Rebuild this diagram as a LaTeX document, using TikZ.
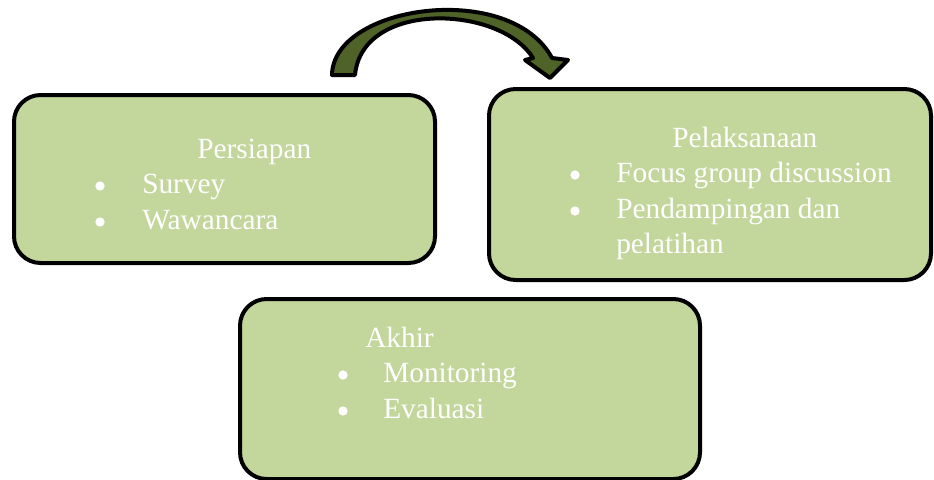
\documentclass[tikz,border=0pt]{standalone}
\usepackage{fontspec}
\setmainfont{Liberation Serif}
\definecolor{boxgreen}{HTML}{C3D69B}
\definecolor{arrowgreen}{HTML}{4F6228}
\begin{document}
\begin{tikzpicture}[x=0.75pt,y=-0.75pt,every node/.style={font=\fontsize{22}{27}\selectfont,text=white},
  stage/.style={draw=black,line width=3pt,fill=boxgreen,rounded corners=20pt,inner sep=0pt},
  item/.style={anchor=base west,inner sep=0pt},
  dot/.style={circle,fill=white,inner sep=0pt,minimum size=7pt}]
\useasboundingbox (0,0) rectangle (934,479);
% three stage boxes
\node[stage,minimum width=421*0.75pt,minimum height=168*0.75pt] (persiapan) at (224.5,179) {};
\node[stage,minimum width=442*0.75pt,minimum height=191*0.75pt] (pelaksanaan) at (710,184.5) {};
\node[stage,minimum width=460*0.75pt,minimum height=180*0.75pt] (akhir) at (470,389) {};
% curved block arrow persiapan -> pelaksanaan
\coordinate (footL) at (332,75); \coordinate (footR) at (355,75);
\coordinate (tip) at (550,78);
\draw[line width=3pt,line join=round,fill=arrowgreen] (footL) .. controls (333,5) and (510,-20) .. (552,58)
  -- (568,60) -- (tip) -- (525,60) -- (533,58) .. controls (500,5) and (362,0) .. (footR) -- cycle;
% texts: persiapan
\node[item] (ttl1) at (197,158) {Persiapan};
\node[dot] (b11) at (100,186) {}; \node[item] (i11) at (142,193) {Survey};
\node[dot] (b12) at (100,222) {}; \node[item] (i12) at (142,229) {Wawancara};
% texts: pelaksanaan
\node[item] (ttl2) at (672,147) {Pelaksanaan};
\node[dot] (b21) at (575,175) {}; \node[item] (i21) at (616,182) {Focus group discussion};
\node[dot] (b22) at (575,211) {}; \node[item] (i22) at (616,218) {Pendampingan dan};
\node[item] (i23) at (616,253) {pelatihan};
% texts: akhir
\node[item] (ttl3) at (365,347) {Akhir};
\node[dot] (b31) at (343,375) {}; \node[item] (i31) at (383,382) {Monitoring};
\node[dot] (b32) at (343,411) {}; \node[item] (i32) at (383,418) {Evaluasi};
\end{tikzpicture}
\end{document}
